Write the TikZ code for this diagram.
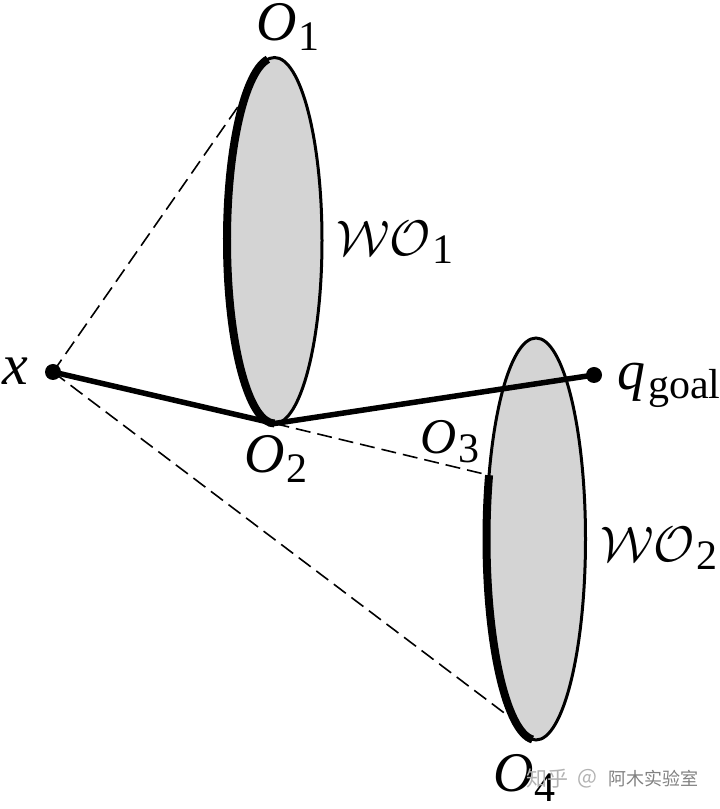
\documentclass[tikz,border=0pt]{standalone}
\usepackage{fontspec}
\setmainfont{Liberation Serif}
\newfontfamily\cjk{Noto Sans CJK SC}
\usetikzlibrary{shapes.geometric,calc}
\newcommand{\bigsz}{\fontsize{56}{56}\selectfont}
\newcommand{\subsz}{\fontsize{42}{42}\selectfont}
\newcommand{\OSub}[1]{{\bigsz\textit{O}\kern1pt\raisebox{-10pt}{\subsz #1}}}
\newcommand{\WOSub}[1]{{\scalebox{5.0}{$\mathcal{WO}$}\kern2pt\raisebox{-8pt}{\subsz #1}}}
\tikzset{
  obstacle/.style={draw=black,fill=black!17,line width=3pt,shape=ellipse,inner sep=0pt,outer sep=0pt},
  pointdot/.style={circle,fill=black,inner sep=0pt,minimum size=16pt},
  pathline/.style={line width=5.5pt,line join=miter},
  visarc/.style={line width=8pt,line cap=butt},
  sight/.style={line width=1.6pt,dash pattern=on 15pt off 7pt},
  lab/.style={inner sep=0pt,text=black}
}
\begin{document}
\begin{tikzpicture}[x=1pt,y=1pt]
\useasboundingbox (0,0) rectangle (720,809);
\node[obstacle,minimum width=95pt,minimum height=366pt] (E1) at (274.5,568.5) {};
\node[obstacle,minimum width=99pt,minimum height=402pt] (E2) at (536,270) {};
\coordinate (O1pt) at ($(E1.center)+(98:47.5pt and 183pt)$);
\coordinate (O1tan) at ($(E1.center)+(128:47.5pt and 183pt)$);
\coordinate (O2pt) at ($(E1.center)+(270:47.5pt and 183pt)$);
\coordinate (O3pt) at ($(E2.center)+(161.5:49.5pt and 201pt)$);
\coordinate (O4pt) at ($(E2.center)+(266:49.5pt and 201pt)$);
\coordinate (O4tan) at ($(E2.center)+(245:49.5pt and 201pt)$);
\node[pointdot] (x) at (53,437) {};
\node[pointdot] (q) at (594,434) {};
\draw[sight] (x.center) -- (O1tan);
\draw[sight] (x.center) -- (O4tan);
\draw[sight] (O2pt) -- (O3pt);
\draw[visarc] (O1pt) arc[start angle=98,end angle=270,x radius=47.5pt,y radius=183pt];
\draw[visarc] (O3pt) arc[start angle=161.5,end angle=266,x radius=49.5pt,y radius=201pt];
\draw[pathline] (x.center) -- (O2pt) -- (q.center);
\node[lab] (lx) at (15,438) {{\fontsize{58}{58}\selectfont\textit{x}}};
\node[lab] (lq) at (669,424) {{\bigsz\textit{q}}\kern3pt\raisebox{-9pt}{\subsz goal}};
\node[lab] (l1) at (288,782) {\OSub{1}};
\node[lab] (l2) at (276,350) {\OSub{2}};
\node[lab] (l3) at (450,367) {{\fontsize{50}{50}\selectfont\textit{O}\kern1pt\raisebox{-9pt}{\subsz 3}}};
\node[lab] (l4) at (524.5,31) {\OSub{4}};
\node[lab] (w1) at (395,567) {\WOSub{1}};
\node[lab] (w2) at (659,261) {\WOSub{2}};
\node[lab,text=black!30] (wm1) at (547,30) {\cjk\fontsize{21}{21}\selectfont 知乎};
\node[lab,text=black!30] (wm2) at (587,30) {\cjk\fontsize{21}{21}\selectfont @};
\node[lab,text=black!50] (wm3) at (653,30) {\cjk\fontsize{18}{18}\selectfont 阿木实验室};
\end{tikzpicture}
\end{document}
